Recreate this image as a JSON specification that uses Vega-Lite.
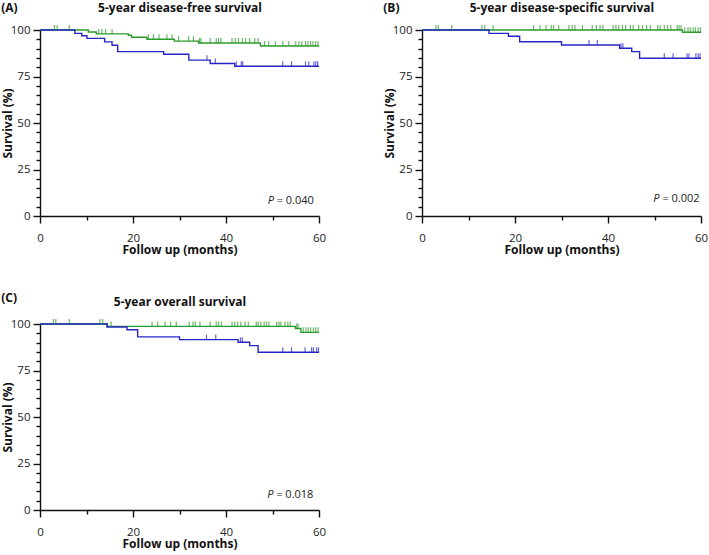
{
"$schema": "https://vega.github.io/schema/vega-lite/v6.json",
"background": "white",
"padding": {"left": 1, "top": 1, "right": 0, "bottom": 2},
"config": {
 "view": {"stroke": null},
 "font": "Open Sans",
 "axis": {"grid": false, "domainColor": "#111", "tickColor": "#111", "domainWidth": 1.4, "tickWidth": 1.4, "labelFont": "Open Sans", "labelFontSize": 11.5, "labelColor": "#222", "titleFont": "Open Sans", "titleFontSize": 12, "titleFontWeight": "bold", "titleColor": "#111", "labelOverlap": false, "labelFlush": false},
 "title": {"font": "Open Sans", "fontSize": 12, "fontWeight": "bold", "color": "#111", "anchor": "start", "frame": "bounds"}
},
"datasets": {
 "stepsA": [
  {"g":"Group 1","t":0,"s":100},{"g":"Group 1","t":10.4,"s":98.9},{"g":"Group 1","t":12.1,"s":97.9},{"g":"Group 1","t":19.0,"s":97.2},{"g":"Group 1","t":19.7,"s":96.1},{"g":"Group 1","t":23.0,"s":95.0},{"g":"Group 1","t":28.9,"s":94.0},{"g":"Group 1","t":34.1,"s":93.0},{"g":"Group 1","t":47.4,"s":91.4},{"g":"Group 1","t":60,"s":91.4},
  {"g":"Group 2","t":0,"s":100},{"g":"Group 2","t":7.5,"s":98.2},{"g":"Group 2","t":9.0,"s":96.9},{"g":"Group 2","t":10.1,"s":95.5},{"g":"Group 2","t":13.9,"s":93.6},{"g":"Group 2","t":15.5,"s":91.8},{"g":"Group 2","t":16.7,"s":88.4},{"g":"Group 2","t":26.6,"s":87.0},{"g":"Group 2","t":32.0,"s":83.8},{"g":"Group 2","t":36.6,"s":82.0},{"g":"Group 2","t":41.9,"s":80.5},{"g":"Group 2","t":60,"s":80.5}
 ],
 "censA": [
  {"g":"Group 1","t":3.1,"s":100},{"g":"Group 1","t":3.7,"s":100},{"g":"Group 1","t":6.3,"s":100},
  {"g":"Group 1","t":12.6,"s":97.9},{"g":"Group 1","t":13.3,"s":97.9},{"g":"Group 1","t":14.1,"s":97.9},{"g":"Group 1","t":15.5,"s":97.9},
  {"g":"Group 1","t":23.3,"s":95.0},{"g":"Group 1","t":24.4,"s":95.0},{"g":"Group 1","t":25.6,"s":95.0},{"g":"Group 1","t":27.3,"s":95.0},{"g":"Group 1","t":28.4,"s":95.0},
  {"g":"Group 1","t":29.8,"s":94.0},{"g":"Group 1","t":32.0,"s":94.0},{"g":"Group 1","t":33.0,"s":94.0},
  {"g":"Group 1","t":34.3,"s":93.0},{"g":"Group 1","t":34.6,"s":93.0},{"g":"Group 1","t":36.6,"s":93.0},{"g":"Group 1","t":37.9,"s":93.0},{"g":"Group 1","t":38.4,"s":93.0},{"g":"Group 1","t":38.9,"s":93.0},{"g":"Group 1","t":41.3,"s":93.0},{"g":"Group 1","t":42.0,"s":93.0},{"g":"Group 1","t":42.7,"s":93.0},{"g":"Group 1","t":43.5,"s":93.0},{"g":"Group 1","t":44.2,"s":93.0},{"g":"Group 1","t":45.1,"s":93.0},{"g":"Group 1","t":46.2,"s":93.0},{"g":"Group 1","t":46.9,"s":93.0},
  {"g":"Group 1","t":48.3,"s":91.4},{"g":"Group 1","t":49.2,"s":91.4},{"g":"Group 1","t":50.6,"s":91.4},{"g":"Group 1","t":52.2,"s":91.4},{"g":"Group 1","t":53.5,"s":91.4},{"g":"Group 1","t":55.0,"s":91.4},{"g":"Group 1","t":55.7,"s":91.4},{"g":"Group 1","t":56.3,"s":91.4},{"g":"Group 1","t":57.1,"s":91.4},{"g":"Group 1","t":57.6,"s":91.4},{"g":"Group 1","t":58.2,"s":91.4},{"g":"Group 1","t":58.7,"s":91.4},{"g":"Group 1","t":59.3,"s":91.4},{"g":"Group 1","t":59.8,"s":91.4},
  {"g":"Group 2","t":35.9,"s":83.8},{"g":"Group 2","t":37.7,"s":82.0},
  {"g":"Group 2","t":42.2,"s":80.5},{"g":"Group 2","t":43.3,"s":80.5},{"g":"Group 2","t":43.6,"s":80.5},{"g":"Group 2","t":52.2,"s":80.5},{"g":"Group 2","t":54.1,"s":80.5},{"g":"Group 2","t":57.1,"s":80.5},{"g":"Group 2","t":57.8,"s":80.5},{"g":"Group 2","t":58.9,"s":80.5},{"g":"Group 2","t":59.3,"s":80.5},{"g":"Group 2","t":59.7,"s":80.5}
 ],
 "stepsB": [
  {"g":"Group 1","t":0,"s":100},{"g":"Group 1","t":56.0,"s":98.8},{"g":"Group 1","t":60,"s":98.8},
  {"g":"Group 2","t":0,"s":100},{"g":"Group 2","t":14.4,"s":98.2},{"g":"Group 2","t":18.6,"s":96.6},{"g":"Group 2","t":21.0,"s":93.7},{"g":"Group 2","t":30.0,"s":91.9},{"g":"Group 2","t":42.5,"s":90.2},{"g":"Group 2","t":45.1,"s":88.4},{"g":"Group 2","t":46.8,"s":84.8},{"g":"Group 2","t":60,"s":84.8}
 ],
 "censB": [
  {"g":"Group 1","t":3.0,"s":100},{"g":"Group 1","t":3.5,"s":100},{"g":"Group 1","t":6.4,"s":100},{"g":"Group 1","t":12.9,"s":100},{"g":"Group 1","t":13.5,"s":100},{"g":"Group 1","t":15.3,"s":100},{"g":"Group 1","t":24.0,"s":100},{"g":"Group 1","t":25.4,"s":100},{"g":"Group 1","t":26.7,"s":100},{"g":"Group 1","t":27.8,"s":100},{"g":"Group 1","t":28.3,"s":100},{"g":"Group 1","t":29.4,"s":100},{"g":"Group 1","t":31.6,"s":100},{"g":"Group 1","t":32.3,"s":100},{"g":"Group 1","t":32.9,"s":100},{"g":"Group 1","t":34.5,"s":100},{"g":"Group 1","t":36.6,"s":100},{"g":"Group 1","t":37.5,"s":100},{"g":"Group 1","t":38.3,"s":100},{"g":"Group 1","t":38.9,"s":100},{"g":"Group 1","t":41.1,"s":100},{"g":"Group 1","t":41.7,"s":100},{"g":"Group 1","t":42.3,"s":100},{"g":"Group 1","t":43.1,"s":100},{"g":"Group 1","t":43.8,"s":100},{"g":"Group 1","t":44.8,"s":100},{"g":"Group 1","t":45.4,"s":100},{"g":"Group 1","t":46.6,"s":100},{"g":"Group 1","t":47.4,"s":100},{"g":"Group 1","t":48.3,"s":100},{"g":"Group 1","t":49.1,"s":100},{"g":"Group 1","t":50.7,"s":100},{"g":"Group 1","t":51.2,"s":100},{"g":"Group 1","t":52.1,"s":100},{"g":"Group 1","t":52.8,"s":100},{"g":"Group 1","t":53.5,"s":100},{"g":"Group 1","t":54.9,"s":100},{"g":"Group 1","t":55.3,"s":100},{"g":"Group 1","t":55.7,"s":100},
  {"g":"Group 1","t":56.5,"s":98.8},{"g":"Group 1","t":57.2,"s":98.8},{"g":"Group 1","t":57.7,"s":98.8},{"g":"Group 1","t":58.3,"s":98.8},{"g":"Group 1","t":58.8,"s":98.8},{"g":"Group 1","t":59.4,"s":98.8},{"g":"Group 1","t":59.9,"s":98.8},
  {"g":"Group 2","t":35.9,"s":91.9},{"g":"Group 2","t":37.7,"s":91.9},{"g":"Group 2","t":42.8,"s":90.2},{"g":"Group 2","t":43.2,"s":90.2},
  {"g":"Group 2","t":52.1,"s":84.8},{"g":"Group 2","t":54.0,"s":84.8},{"g":"Group 2","t":57.0,"s":84.8},{"g":"Group 2","t":57.4,"s":84.8},{"g":"Group 2","t":58.9,"s":84.8},{"g":"Group 2","t":59.4,"s":84.8},{"g":"Group 2","t":59.8,"s":84.8}
 ],
 "stepsC": [
  {"g":"Group 1","t":0,"s":100},{"g":"Group 1","t":14.5,"s":98.7},{"g":"Group 1","t":54.9,"s":97.6},{"g":"Group 1","t":56.1,"s":95.5},{"g":"Group 1","t":60,"s":95.5},
  {"g":"Group 2","t":0,"s":100},{"g":"Group 2","t":14.4,"s":98.4},{"g":"Group 2","t":18.7,"s":96.9},{"g":"Group 2","t":21.0,"s":93.1},{"g":"Group 2","t":30.0,"s":91.6},{"g":"Group 2","t":42.6,"s":90.2},{"g":"Group 2","t":45.1,"s":88.4},{"g":"Group 2","t":46.9,"s":84.8},{"g":"Group 2","t":60,"s":84.8}
 ],
 "censC": [
  {"g":"Group 1","t":2.9,"s":100},{"g":"Group 1","t":3.4,"s":100},{"g":"Group 1","t":6.3,"s":100},{"g":"Group 1","t":12.9,"s":100},{"g":"Group 1","t":13.5,"s":100},
  {"g":"Group 1","t":15.3,"s":98.7},{"g":"Group 1","t":24.1,"s":98.7},{"g":"Group 1","t":25.3,"s":98.7},{"g":"Group 1","t":26.9,"s":98.7},{"g":"Group 1","t":28.1,"s":98.7},{"g":"Group 1","t":29.3,"s":98.7},{"g":"Group 1","t":32.1,"s":98.7},{"g":"Group 1","t":32.9,"s":98.7},{"g":"Group 1","t":33.4,"s":98.7},{"g":"Group 1","t":34.4,"s":98.7},{"g":"Group 1","t":36.6,"s":98.7},{"g":"Group 1","t":37.9,"s":98.7},{"g":"Group 1","t":38.4,"s":98.7},{"g":"Group 1","t":39.0,"s":98.7},{"g":"Group 1","t":41.3,"s":98.7},{"g":"Group 1","t":41.9,"s":98.7},{"g":"Group 1","t":42.5,"s":98.7},{"g":"Group 1","t":43.2,"s":98.7},{"g":"Group 1","t":44.1,"s":98.7},{"g":"Group 1","t":44.8,"s":98.7},{"g":"Group 1","t":46.5,"s":98.7},{"g":"Group 1","t":46.9,"s":98.7},{"g":"Group 1","t":47.5,"s":98.7},{"g":"Group 1","t":48.2,"s":98.7},{"g":"Group 1","t":48.7,"s":98.7},{"g":"Group 1","t":49.2,"s":98.7},{"g":"Group 1","t":50.9,"s":98.7},{"g":"Group 1","t":51.4,"s":98.7},{"g":"Group 1","t":51.8,"s":98.7},{"g":"Group 1","t":52.7,"s":98.7},{"g":"Group 1","t":53.3,"s":98.7},{"g":"Group 1","t":53.8,"s":98.7},
  {"g":"Group 1","t":55.2,"s":97.6},{"g":"Group 1","t":55.5,"s":97.6},
  {"g":"Group 1","t":56.6,"s":95.5},{"g":"Group 1","t":57.2,"s":95.5},{"g":"Group 1","t":57.7,"s":95.5},{"g":"Group 1","t":58.2,"s":95.5},{"g":"Group 1","t":58.8,"s":95.5},{"g":"Group 1","t":59.3,"s":95.5},{"g":"Group 1","t":59.8,"s":95.5},
  {"g":"Group 2","t":35.8,"s":91.6},{"g":"Group 2","t":37.8,"s":91.6},{"g":"Group 2","t":43.1,"s":90.2},{"g":"Group 2","t":43.5,"s":90.2},
  {"g":"Group 2","t":52.2,"s":84.8},{"g":"Group 2","t":54.1,"s":84.8},{"g":"Group 2","t":57.0,"s":84.8},{"g":"Group 2","t":58.4,"s":84.8},{"g":"Group 2","t":58.8,"s":84.8},{"g":"Group 2","t":59.5,"s":84.8},{"g":"Group 2","t":59.9,"s":84.8}
 ]
},
"columns": 2,
"spacing": {"row": 108, "column": 103},
"bounds": "flush",
"concat": [
 {
  "width": 279, "height": 186,
  "title": {"text": "(A)", "dy": 18},
  "resolve": {"axis": {"x": "independent", "y": "independent"}},
  "layer": [
   {"data": {"name": "stepsA"}, "mark": {"type": "line", "interpolate": "step-after", "strokeWidth": 1.4},
    "encoding": {
     "x": {"field": "t", "type": "quantitative", "scale": {"domain": [0, 60], "nice": false}, "axis": {"orient": "bottom", "values": [0,20,40,60], "tickSize": 7, "labelPadding": 9, "title": "Follow up (months)", "titlePadding": 1}},
     "y": {"field": "s", "type": "quantitative", "scale": {"domain": [0, 100], "nice": false}, "axis": {"orient": "left", "values": [0,25,50,75,100], "tickSize": 7, "labelPadding": 3, "title": "Survival (%)", "titlePadding": -4}},
     "color": {"field": "g", "type": "nominal", "scale": {"domain": ["Group 1", "Group 2"], "range": ["#2a9a2a", "#2626c6"]}, "legend": null}
    }},
   {"data": {"name": "censA"}, "mark": {"type": "tick", "orient": "vertical", "size": 5, "thickness": 1.2, "yOffset": -2.5},
    "encoding": {
     "x": {"field": "t", "type": "quantitative", "axis": {"orient": "top", "title": "5-year disease-free survival", "labels": false, "ticks": false, "domain": false, "titlePadding": 16}},
     "y": {"field": "s", "type": "quantitative", "axis": {"orient": "left", "values": [5,10,15,20,30,35,40,45,55,60,65,70,80,85,90,95], "tickSize": 4, "labels": false, "domain": false, "title": null}},
     "color": {"field": "g", "type": "nominal", "legend": null}
    }},
   {"data": {"values": [{"t": 58.9, "s": 8.1, "label": "= 0.040"}]}, "mark": {"type": "text", "align": "right", "baseline": "middle", "fontSize": 11, "color": "#222"},
    "encoding": {"x": {"field": "t", "type": "quantitative", "axis": {"orient": "bottom", "values": [10,30,50], "tickSize": 4, "labels": false, "domain": false, "title": null}}, "y": {"field": "s", "type": "quantitative", "axis": null}, "text": {"field": "label"}}},
   {"data": {"values": [{"t": 58.9, "s": 8.1, "p": "P"}]}, "mark": {"type": "text", "align": "right", "baseline": "middle", "fontSize": 11, "fontStyle": "italic", "dx": -40, "color": "#222"},
    "encoding": {"x": {"field": "t", "type": "quantitative", "axis": null}, "y": {"field": "s", "type": "quantitative", "axis": null}, "text": {"field": "p"}}}
  ]
 },
 {
  "width": 279, "height": 186,
  "title": {"text": "(B)", "dy": 18},
  "resolve": {"axis": {"x": "independent", "y": "independent"}},
  "layer": [
   {"data": {"name": "stepsB"}, "mark": {"type": "line", "interpolate": "step-after", "strokeWidth": 1.4},
    "encoding": {
     "x": {"field": "t", "type": "quantitative", "scale": {"domain": [0, 60], "nice": false}, "axis": {"orient": "bottom", "values": [0,20,40,60], "tickSize": 7, "labelPadding": 9, "title": "Follow up (months)", "titlePadding": 1}},
     "y": {"field": "s", "type": "quantitative", "scale": {"domain": [0, 100], "nice": false}, "axis": {"orient": "left", "values": [0,25,50,75,100], "tickSize": 7, "labelPadding": 3, "title": "Survival (%)", "titlePadding": -4}},
     "color": {"field": "g", "type": "nominal", "scale": {"domain": ["Group 1", "Group 2"], "range": ["#2a9a2a", "#2626c6"]}, "legend": null}
    }},
   {"data": {"name": "censB"}, "mark": {"type": "tick", "orient": "vertical", "size": 5, "thickness": 1.2, "yOffset": -2.5},
    "encoding": {
     "x": {"field": "t", "type": "quantitative", "axis": {"orient": "top", "title": "5-year disease-specific survival", "labels": false, "ticks": false, "domain": false, "titlePadding": 16}},
     "y": {"field": "s", "type": "quantitative", "axis": {"orient": "left", "values": [5,10,15,20,30,35,40,45,55,60,65,70,80,85,90,95], "tickSize": 4, "labels": false, "domain": false, "title": null}},
     "color": {"field": "g", "type": "nominal", "legend": null}
    }},
   {"data": {"values": [{"t": 59.7, "s": 8.9, "label": "= 0.002"}]}, "mark": {"type": "text", "align": "right", "baseline": "middle", "fontSize": 11, "color": "#222"},
    "encoding": {"x": {"field": "t", "type": "quantitative", "axis": {"orient": "bottom", "values": [10,30,50], "tickSize": 4, "labels": false, "domain": false, "title": null}}, "y": {"field": "s", "type": "quantitative", "axis": null}, "text": {"field": "label"}}},
   {"data": {"values": [{"t": 59.7, "s": 8.9, "p": "P"}]}, "mark": {"type": "text", "align": "right", "baseline": "middle", "fontSize": 11, "fontStyle": "italic", "dx": -40, "color": "#222"},
    "encoding": {"x": {"field": "t", "type": "quantitative", "axis": null}, "y": {"field": "s", "type": "quantitative", "axis": null}, "text": {"field": "p"}}}
  ]
 },
 {
  "width": 279, "height": 186,
  "title": {"text": "(C)", "dy": 14},
  "resolve": {"axis": {"x": "independent", "y": "independent"}},
  "layer": [
   {"data": {"name": "stepsC"}, "mark": {"type": "line", "interpolate": "step-after", "strokeWidth": 1.4},
    "encoding": {
     "x": {"field": "t", "type": "quantitative", "scale": {"domain": [0, 60], "nice": false}, "axis": {"orient": "bottom", "values": [0,20,40,60], "tickSize": 7, "labelPadding": 9, "title": "Follow up (months)", "titlePadding": 1}},
     "y": {"field": "s", "type": "quantitative", "scale": {"domain": [0, 100], "nice": false}, "axis": {"orient": "left", "values": [0,25,50,75,100], "tickSize": 7, "labelPadding": 3, "title": "Survival (%)", "titlePadding": -4}},
     "color": {"field": "g", "type": "nominal", "scale": {"domain": ["Group 1", "Group 2"], "range": ["#2a9a2a", "#2626c6"]}, "legend": null}
    }},
   {"data": {"name": "censC"}, "mark": {"type": "tick", "orient": "vertical", "size": 5, "thickness": 1.2, "yOffset": -2.5},
    "encoding": {
     "x": {"field": "t", "type": "quantitative", "axis": {"orient": "top", "title": "5-year overall survival", "labels": false, "ticks": false, "domain": false, "titlePadding": 16}},
     "y": {"field": "s", "type": "quantitative", "axis": {"orient": "left", "values": [5,10,15,20,30,35,40,45,55,60,65,70,80,85,90,95], "tickSize": 4, "labels": false, "domain": false, "title": null}},
     "color": {"field": "g", "type": "nominal", "legend": null}
    }},
   {"data": {"values": [{"t": 58.8, "s": 8.1, "label": "= 0.018"}]}, "mark": {"type": "text", "align": "right", "baseline": "middle", "fontSize": 11, "color": "#222"},
    "encoding": {"x": {"field": "t", "type": "quantitative", "axis": {"orient": "bottom", "values": [10,30,50], "tickSize": 4, "labels": false, "domain": false, "title": null}}, "y": {"field": "s", "type": "quantitative", "axis": null}, "text": {"field": "label"}}},
   {"data": {"values": [{"t": 58.8, "s": 8.1, "p": "P"}]}, "mark": {"type": "text", "align": "right", "baseline": "middle", "fontSize": 11, "fontStyle": "italic", "dx": -40, "color": "#222"},
    "encoding": {"x": {"field": "t", "type": "quantitative", "axis": null}, "y": {"field": "s", "type": "quantitative", "axis": null}, "text": {"field": "p"}}}
  ]
 }
]
}
